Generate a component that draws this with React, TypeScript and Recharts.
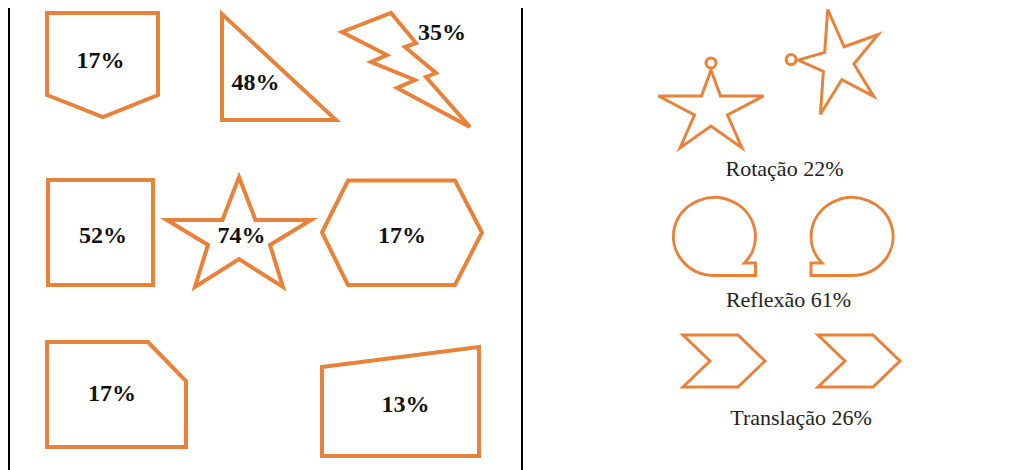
import { ReferenceLine, Scatter, ScatterChart, XAxis, YAxis } from "recharts";

// left panel: figures and the share of each
const figureKinds = ["shield", "triangle", "bolt", "square", "star", "hexagon", "cutCorner", "trapezoid"];
const figurePercents = [17, 48, 35, 52, 74, 17, 17, 13];
const figureX = [103, 279, 406, 100.5, 239, 402, 116.5, 400.5];
const figureY = [63, 67, 70, 232.5, 233, 232.5, 395, 405];
const figureLabelX = [100.5, 255.5, 442, 103, 241.5, 402, 112, 405.5];
const figureLabelY = [68, 90, 40, 243, 243, 243, 401, 412];

// right panel: transformations
const transformNames = ["Rotação", "Reflexão", "Translação"];
const transformPercents = [22, 61, 26];
const transformLabelX = [784.5, 788.5, 801];
const transformLabelY = [176, 307, 425];
const pairKinds = ["starRing", "starRing", "bubble", "bubbleMirror", "chevron", "chevron"];
const pairX = [711, 840, 714.5, 852, 724, 859];
const pairY = [112, 63, 236.5, 236.5, 361, 361];
const pairRotation = [0, -86, 0, 0, 0, 0];

const ORANGE = "#E8823A";
const W = 1022;
const H = 470;

const outlines: Record<string, number[][]> = {
  shield: [[-56, -50], [55, -50], [55, 32], [0, 54], [-56, 32]],
  triangle: [[-57, -53], [-57, 53], [57, 53]],
  bolt: [[-64, -38], [-15, -57], [10, -27], [-1, -23], [30, 3], [20, 7], [64, 57], [-9, 18], [9, 10], [-35, -8], [-19, -15]],
  square: [[-52.5, -52.5], [52.5, -52.5], [52.5, 52.5], [-52.5, 52.5]],
  star: [[0, -56], [16.5, -13], [72, -13], [31, 12], [44, 54], [0, 26], [-44, 54], [-31, 12], [-72, -13], [-16.5, -13]],
  hexagon: [[-80, 0], [-54, -52], [53, -52], [80, 0], [53, 52.5], [-54, 52.5]],
  cutCorner: [[-69.5, -53], [31.5, -53], [69.5, -14], [69.5, 52], [-69.5, 52]],
  trapezoid: [[-78.5, -38], [78.5, -58], [78.5, 51], [-78.5, 51]],
  starRing: [[0, -42], [9.5, -16], [52.5, -16], [16.5, 3], [31, 36], [0, 14], [-31, 36], [-16.5, 3], [-52.5, -16], [-9.5, -16]],
  chevron: [[-41, -26], [14, -26], [41, 0], [14, 26], [-41, 26], [-14, 0]],
};

function rotate(p: number[], deg: number) {
  const a = (deg * Math.PI) / 180;
  const c = Math.cos(a);
  const s = Math.sin(a);
  return [p[0] * c - p[1] * s, p[0] * s + p[1] * c];
}

function polyPath(pts: number[][], cx: number, cy: number, deg = 0) {
  return (
    pts
      .map((p, i) => {
        const [dx, dy] = rotate(p, deg);
        return `${i ? "L" : "M"}${cx + dx},${cy + dy}`;
      })
      .join(" ") + " Z"
  );
}

function bubblePath(cx: number, cy: number, m: number) {
  const rx = 41;
  const ry = 39;
  const px = 30;
  const py = 26.5;
  return [
    `M${cx + m * rx},${cy + ry}`,
    `L${cx},${cy + ry}`,
    `A${rx},${ry} 0 1 ${m > 0 ? 1 : 0} ${cx + m * px},${cy + py}`,
    `L${cx + m * rx},${cy + py}`,
    "Z",
  ].join(" ");
}

const figureData = figureKinds.map((kind, i) => ({
  kind,
  x: figureX[i],
  y: figureY[i],
}));
const figureLabels = figurePercents.map((v, i) => ({
  text: `${v}%`,
  x: figureLabelX[i],
  y: figureLabelY[i],
}));
const pairData = pairKinds.map((kind, i) => ({
  kind,
  x: pairX[i],
  y: pairY[i],
  rot: pairRotation[i],
}));
const transformLabels = transformNames.map((name, i) => ({
  text: `${name} ${transformPercents[i]}%`,
  x: transformLabelX[i],
  y: transformLabelY[i],
}));

const FigureShape = (props: any) => {
  const { cx, cy, payload } = props;
  return (
    <path
      d={polyPath(outlines[payload.kind], cx, cy)}
      fill="none"
      stroke={ORANGE}
      strokeWidth={4}
      strokeLinejoin="miter"
    />
  );
};

const PairShape = (props: any) => {
  const { cx, cy, payload } = props;
  const style = { fill: "none", stroke: ORANGE, strokeWidth: 3 };
  if (payload.kind === "bubble" || payload.kind === "bubbleMirror") {
    return <path d={bubblePath(cx, cy, payload.kind === "bubble" ? 1 : -1)} {...style} />;
  }
  if (payload.kind === "starRing") {
    const [rx, ry] = rotate([0, -49], payload.rot);
    return (
      <g>
        <path d={polyPath(outlines.starRing, cx, cy, payload.rot)} {...style} />
        <circle cx={cx + rx} cy={cy + ry} r={5} {...style} />
      </g>
    );
  }
  return <path d={polyPath(outlines[payload.kind], cx, cy, payload.rot)} {...style} />;
};

const BoldLabel = (props: any) => (
  <text
    x={props.cx}
    y={props.cy}
    textAnchor="middle"
    fontFamily="'Liberation Serif', 'Times New Roman', serif"
    fontWeight="bold"
    fontSize={24}
    fill="#111"
  >
    {props.payload.text}
  </text>
);

const PlainLabel = (props: any) => (
  <text
    x={props.cx}
    y={props.cy}
    textAnchor="middle"
    fontFamily="'Liberation Serif', 'Times New Roman', serif"
    fontSize={22}
    fill="#222"
  >
    {props.payload.text}
  </text>
);

export default function App() {
  return (
    <div style={{ position: "absolute", left: 0, top: 0, width: W, height: H, background: "#fff" }}>
      <ScatterChart width={W} height={H} margin={{ top: 0, right: 0, bottom: 0, left: 0 }}>
        <XAxis type="number" dataKey="x" domain={[0, W]} allowDataOverflow hide />
        <YAxis type="number" dataKey="y" domain={[0, H]} allowDataOverflow reversed hide />
        <ReferenceLine segment={[{ x: 9, y: 8 }, { x: 9, y: H }]} stroke="#000" strokeWidth={2} />
        <ReferenceLine segment={[{ x: 522, y: 8 }, { x: 522, y: H }]} stroke="#000" strokeWidth={2} />
        <Scatter data={figureData} shape={FigureShape} isAnimationActive={false} />
        <Scatter data={pairData} shape={PairShape} isAnimationActive={false} />
        <Scatter data={figureLabels} shape={BoldLabel} isAnimationActive={false} />
        <Scatter data={transformLabels} shape={PlainLabel} isAnimationActive={false} />
      </ScatterChart>
    </div>
  );
}
